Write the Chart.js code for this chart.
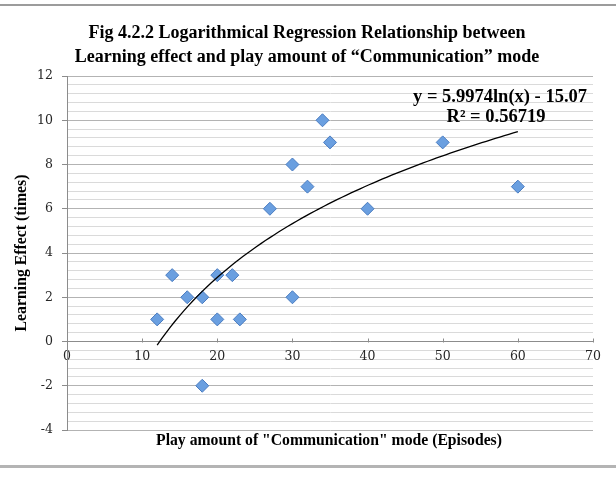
<!DOCTYPE html>
<html>
<head>
<meta charset="utf-8">
<script src="https://cdn.jsdelivr.net/npm/chart.js@4.4.0/dist/chart.umd.min.js"></script>
<style>
  html, body { margin: 0; padding: 0; background: #fff; }
  #wrap { position: relative; width: 616px; height: 478px; }
</style>
</head>
<body>
<div id="wrap"><canvas id="chart" width="616" height="478"></canvas></div>
<script>
// values
const episodes = [12, 14, 16, 18, 18, 20, 20, 22, 23, 27, 30, 30, 32, 34, 35, 40, 50, 60];
const learningEffect = [1, 3, 2, 2, -2, 3, 1, 3, 1, 6, 8, 2, 7, 10, 9, 6, 9, 7];
const xTicks = [0, 10, 20, 30, 40, 50, 60, 70];
const yTicks = [-4, -2, 0, 2, 4, 6, 8, 10, 12];
const yMinorStep = 0.4;
// log trendline as printed on the chart: y = a ln(x) + b
const trendA = 5.9974;
const trendB = -15.07;
const titleLines = [
  "Fig 4.2.2 Logarithmical Regression Relationship between",
  "Learning effect and play amount of \u201CCommunication\u201D mode",
];
const xTitle = 'Play amount of "Communication" mode (Episodes)';
const yTitle = "Learning Effect (times)";
const eqLines = ["y = 5.9974ln(x) - 15.07", "R\u00B2 = 0.56719"];

const TIMES = '"Liberation Serif", "Times New Roman", serif';
const SLAB = '"DejaVu Serif", Georgia, serif';

// trendline from min to max x, using the printed equation
const xMin = Math.min(...episodes);
const xMax = Math.max(...episodes);
const trendPoints = [];
for (let i = 0; i <= 80; i++) {
  const x = xMin + ((xMax - xMin) * i) / 80;
  trendPoints.push({ x: x, y: trendA * Math.log(x) + trendB });
}

const isMajor = (v) => yTicks.some((t) => Math.abs(t - v) < 1e-6);

// pick a font size so the text spans about `width` px
function fitFont(ctx, text, family, width, maxSize) {
  ctx.font = "bold 20px " + family;
  const size = Math.min(maxSize, (20 * width) / ctx.measureText(text).width);
  ctx.font = "bold " + size.toFixed(2) + "px " + family;
}

const decorations = {
  id: "decorations",
  afterDraw(chart) {
    const ctx = chart.ctx;
    const xs = chart.scales.x;
    const ys = chart.scales.y;
    ctx.save();

    // page rules top and bottom
    ctx.fillStyle = "#9c9c9c";
    ctx.fillRect(0, 4, 616, 2);
    ctx.fillStyle = "#b4b4b4";
    ctx.fillRect(0, 465, 616, 3);

    // small tick marks on the x axis, pointing up
    ctx.strokeStyle = "#8c8c8c";
    ctx.lineWidth = 1;
    const y0 = Math.round(ys.getPixelForValue(0)) + 0.5;
    xTicks.forEach((v) => {
      const px = Math.round(xs.getPixelForValue(v)) + 0.5;
      ctx.beginPath();
      ctx.moveTo(px, y0);
      ctx.lineTo(px, y0 - 4);
      ctx.stroke();
    });

    ctx.fillStyle = "#000";
    ctx.textAlign = "center";
    ctx.textBaseline = "middle";

    // title
    ctx.font = "bold 18px " + TIMES;
    ctx.fillText(titleLines[0], 307, 33);
    ctx.fillText(titleLines[1], 307, 57);

    // axis titles
    fitFont(ctx, xTitle, TIMES, 346, 17);
    ctx.fillText(xTitle, 329, 441);
    ctx.save();
    ctx.translate(22, 253);
    ctx.rotate(-Math.PI / 2);
    fitFont(ctx, yTitle, TIMES, 157, 17);
    ctx.fillText(yTitle, 0, 0);
    ctx.restore();

    // trendline equation
    fitFont(ctx, eqLines[0], TIMES, 184, 18.5);
    ctx.textAlign = "right";
    ctx.fillText(eqLines[0], 587, 97);
    ctx.textAlign = "center";
    ctx.fillText(eqLines[1], 496, 117);

    ctx.restore();
  },
};

new Chart(document.getElementById("chart"), {
  type: "scatter",
  data: {
    datasets: [
      {
        label: "trend",
        type: "line",
        data: trendPoints,
        borderColor: "#000000",
        borderWidth: 1.3,
        pointRadius: 0,
        fill: false,
        tension: 0,
        order: 0,
      },
      {
        label: "Learning effect",
        data: episodes.map((x, i) => ({ x: x, y: learningEffect[i] })),
        pointStyle: "rectRot",
        pointRadius: 6.5,
        backgroundColor: "#6a9fe0",
        borderColor: "#4a7cc0",
        borderWidth: 1,
        order: 1,
      },
    ],
  },
  options: {
    responsive: false,
    animation: false,
    layout: { padding: { top: 76, right: 23, bottom: 48, left: 0 } },
    plugins: {
      legend: { display: false },
      tooltip: { enabled: false },
      title: { display: false },
    },
    scales: {
      x: {
        type: "linear",
        position: { y: 0 },
        min: 0,
        max: 70,
        afterBuildTicks: (scale) => {
          scale.ticks = xTicks.map((v) => ({ value: v }));
        },
        grid: { drawOnChartArea: false, drawTicks: false },
        border: { color: "#8c8c8c", width: 1 },
        ticks: {
          autoSkip: false,
          maxRotation: 0,
          padding: 8,
          color: "#262626",
          font: { family: SLAB, size: 12.5 },
        },
      },
      y: {
        type: "linear",
        min: -4,
        max: 12,
        afterBuildTicks: (scale) => {
          const ticks = [];
          const n = Math.round((yTicks[yTicks.length - 1] - yTicks[0]) / yMinorStep);
          for (let i = 0; i <= n; i++) {
            ticks.push({ value: Math.round((yTicks[0] + i * yMinorStep) * 10) / 10 });
          }
          scale.ticks = ticks;
        },
        afterFit: (scale) => {
          scale.width = 67;
        },
        grid: {
          color: (c) => (isMajor(c.tick.value) ? "#b3b3b3" : "#dadada"),
          tickColor: (c) => (isMajor(c.tick.value) ? "#8c8c8c" : "rgba(0,0,0,0)"),
          tickLength: 5,
        },
        border: { color: "#8c8c8c", width: 1 },
        ticks: {
          autoSkip: false,
          padding: 9,
          color: "#262626",
          font: { family: SLAB, size: 12.5 },
          callback: (v) => (isMajor(v) ? String(Math.round(v)) : ""),
        },
      },
    },
  },
  plugins: [decorations],
});
</script>
</body>
</html>
